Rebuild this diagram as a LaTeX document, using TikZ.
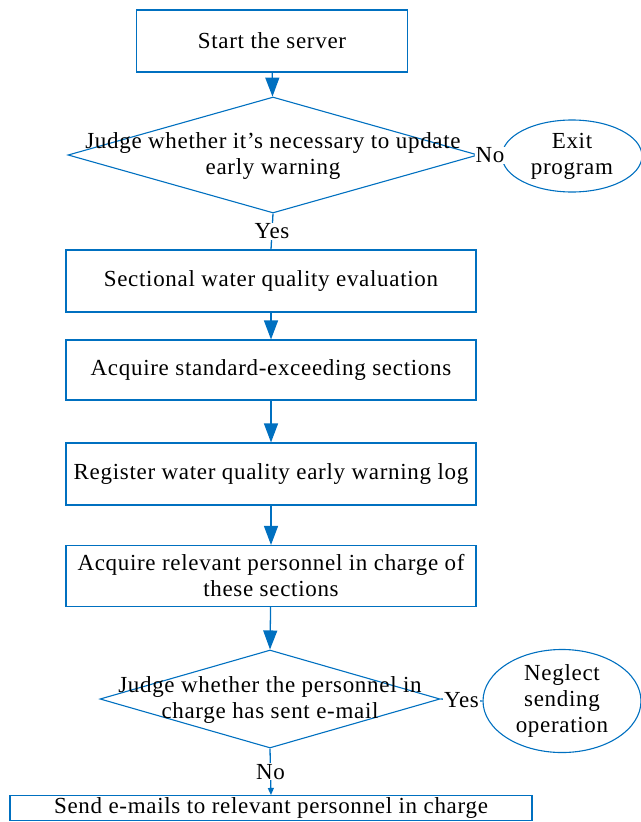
\documentclass[tikz,border=0pt]{standalone}
\usepackage{fontspec}
\setmainfont{Liberation Serif}[LetterSpace=3]
\usetikzlibrary{shapes.geometric,arrows.meta}
\definecolor{flowblue}{RGB}{0,112,192}
\tikzset{
  procbox/.style={draw=flowblue, line width=1.1pt, minimum width=410pt, minimum height=62pt, align=center, inner sep=2pt},
  decision/.style={draw=flowblue, line width=1.1pt, diamond, inner sep=0pt},
  endcap/.style={draw=flowblue, line width=1.1pt, ellipse, inner sep=0pt, align=center},
  flow/.style={draw=flowblue, line width=1.3pt, -{Triangle[width=14pt,length=19pt]}},
  plainflow/.style={draw=flowblue, line width=1.3pt},
  tag/.style={fill=white, inner sep=1pt},
}
\begin{document}
\begin{tikzpicture}[x=1pt, y=-1pt, font=\fontsize{23}{26}\selectfont]
      \useasboundingbox (0,0) rectangle (640,822);
      \node[procbox, minimum width=271pt] (start) at (272, 41) {Start the server};
      \node[decision, minimum width=410pt, minimum height=116pt] (judge) at (273, 155) {};
      \node[align=center] (judgetxt) at (273, 156) {Judge whether it’s necessary to update\\early warning};
      \node[endcap, minimum width=140pt, minimum height=72pt] (exit) at (572, 156) {Exit\\program};
      \node[procbox] (eval) at (271, 281) {Sectional water quality evaluation};
      \node[procbox, minimum height=60pt] (exceed) at (271, 370) {Acquire standard-exceeding sections};
      \node[procbox] (log) at (271, 474) {Register water quality early warning log};
      \node[procbox, minimum height=61pt] (person) at (271, 576) {Acquire relevant personnel in charge of\\these sections};
      \node[decision, minimum width=340pt, minimum height=98pt] (sent) at (270, 699) {};
      \node[align=center] (senttxt) at (270, 700) {Judge whether the personnel in\\charge has sent e-mail};
      \node[endcap, minimum width=158pt, minimum height=72pt] (neglect) at (562, 701) {Neglect\\sending\\operation};
      \node[procbox, minimum width=522pt, minimum height=25pt, inner sep=0pt] (send) at (271, 808) {Send e-mails to relevant personnel in charge};
      \draw[flow] (start) to (judge);
      \draw[plainflow] (judge.south) to node[tag] (yes1) {Yes} (eval.north);
      \draw[plainflow] (judge.east) to node[tag] (no1) {No} (exit.west);
      \draw[flow] (eval) to (exceed);
      \draw[flow] (exceed) to (log);
      \draw[flow] (log) to (person);
      \draw[flow] (person) to (sent.north);
      \draw[plainflow] (sent.east) to node[tag] (yes2) {Yes} (neglect.west);
      \draw[plainflow, -{Triangle[width=6pt,length=7pt]}] (sent.south) to node[tag] (no2) {No} (send.north);
    \end{tikzpicture}
\end{document}
